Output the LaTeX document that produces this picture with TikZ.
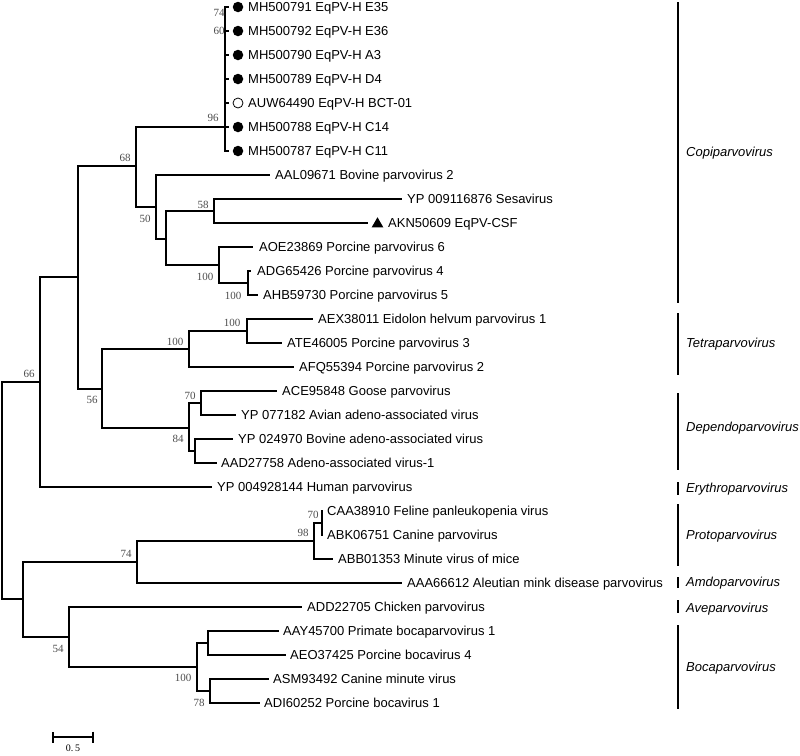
\documentclass[tikz,border=0pt]{standalone}
\usepackage{fontspec}
\setmainfont{Liberation Sans}
\newfontfamily\bsfont{Liberation Serif}
\usetikzlibrary{shapes.geometric,arrows.meta}
\begin{document}
\begin{tikzpicture}[x=1pt,y=-1pt,
  br/.style={line width=1.9pt,line cap=butt,line join=miter},
  lab/.style={anchor=west,inner sep=0pt,font=\fontsize{13}{15}\selectfont,text height=9.3pt,text depth=0pt},
  genus/.style={anchor=west,inner sep=0pt,font=\fontsize{13}{15}\selectfont\itshape,text height=9.3pt,text depth=0pt},
  bs/.style={inner sep=0pt,font=\bsfont\fontsize{11}{13}\selectfont,text=black!70},
  fdot/.style={circle,fill=black,inner sep=0pt,minimum size=10.5pt},
  odot/.style={circle,draw=black,line width=0.8pt,fill=white,inner sep=0pt,minimum size=10pt},
  tri/.style={regular polygon,regular polygon sides=3,fill=black,inner sep=0pt,minimum size=13.5pt},
  gbar/.style={line width=1.9pt}]
\useasboundingbox (0,0) rectangle (800,755);
% internal nodes
\coordinate (root) at (2,490);
\coordinate (n66) at (40,382);
\coordinate (n78) at (78,277);
\coordinate (n68) at (136,166);
\coordinate (n96) at (225,127);
\coordinate (n50) at (156,207);
\coordinate (n239) at (166,239);
\coordinate (n58) at (214,211);
\coordinate (n100a) at (219,265);
\coordinate (n100b) at (248,283);
\coordinate (n56) at (102,389);
\coordinate (ntet) at (189,349);
\coordinate (n100c) at (247,331);
\coordinate (n84) at (189,428);
\coordinate (n70d) at (201,403);
\coordinate (ndep2) at (195,451);
\coordinate (nB) at (23,599);
\coordinate (n74) at (137,562);
\coordinate (n98) at (314,541);
\coordinate (n70p) at (322,523);
\coordinate (n54) at (69,637);
\coordinate (nboca) at (197,667);
\coordinate (nb1) at (208,643);
\coordinate (nb2) at (210,691);
% leaf tips
\coordinate (l1) at (229,7);
\coordinate (l2) at (229,31);
\coordinate (l3) at (229,55);
\coordinate (l4) at (229,79);
\coordinate (l5) at (229,103);
\coordinate (l6) at (229,127);
\coordinate (l7) at (229,151);
\coordinate (l8) at (270,175);
\coordinate (l9) at (402,199);
\coordinate (l10) at (368,223);
\coordinate (l11) at (253,247);
\coordinate (l12) at (251,271);
\coordinate (l13) at (258,295);
\coordinate (l14) at (313,319);
\coordinate (l15) at (282,343);
\coordinate (l16) at (294,367);
\coordinate (l17) at (277,391);
\coordinate (l18) at (236,415);
\coordinate (l19) at (233,439);
\coordinate (l20) at (217,463);
\coordinate (l21) at (212,487);
\coordinate (l22) at (323,511);
\coordinate (l23) at (323,535);
\coordinate (l24) at (333,559);
\coordinate (l25) at (402,583);
\coordinate (l26) at (302,607);
\coordinate (l27) at (279,631);
\coordinate (l28) at (286,655);
\coordinate (l29) at (269,679);
\coordinate (l30) at (260,703);
% branches
\draw[br] (root) |- (n66);
\draw[br] (root) |- (nB);
\draw[br] (n66) |- (n78);
\draw[br] (n66) |- (l21);
\draw[br] (n78) |- (n68);
\draw[br] (n78) |- (n56);
\draw[br] (n68) |- (n96);
\draw[br] (n68) |- (n50);
\foreach \i in {1,...,7} {\draw[br] (n96) |- (l\i);}
\draw[br] (n50) |- (l8);
\draw[br] (n50) |- (n239);
\draw[br] (n239) |- (n58);
\draw[br] (n239) |- (n100a);
\draw[br] (n58) |- (l9);
\draw[br] (n58) |- (l10);
\draw[br] (n100a) |- (l11);
\draw[br] (n100a) |- (n100b);
\draw[br] (n100b) |- (l12);
\draw[br] (n100b) |- (l13);
\draw[br] (n56) |- (ntet);
\draw[br] (n56) |- (n84);
\draw[br] (ntet) |- (n100c);
\draw[br] (ntet) |- (l16);
\draw[br] (n100c) |- (l14);
\draw[br] (n100c) |- (l15);
\draw[br] (n84) |- (n70d);
\draw[br] (n84) |- (ndep2);
\draw[br] (n70d) |- (l17);
\draw[br] (n70d) |- (l18);
\draw[br] (ndep2) |- (l19);
\draw[br] (ndep2) |- (l20);
\draw[br] (nB) |- (n74);
\draw[br] (nB) |- (n54);
\draw[br] (n74) |- (n98);
\draw[br] (n74) |- (l25);
\draw[br] (n98) |- (n70p);
\draw[br] (n98) |- (l24);
\draw[br] (n70p) |- (l22);
\draw[br] (n70p) |- (l23);
\draw[br] (n54) |- (l26);
\draw[br] (n54) |- (nboca);
\draw[br] (nboca) |- (nb1);
\draw[br] (nboca) |- (nb2);
\draw[br] (nb1) |- (l27);
\draw[br] (nb1) |- (l28);
\draw[br] (nb2) |- (l29);
\draw[br] (nb2) |- (l30);
% markers
\node[fdot] (m1) at (238,7) {};
\node[fdot] (m2) at (238,31) {};
\node[fdot] (m3) at (238,55) {};
\node[fdot] (m4) at (238,79) {};
\node[odot] (m5) at (238,103) {};
\node[fdot] (m6) at (238,127) {};
\node[fdot] (m7) at (238,151) {};
\node[tri] (m10) at (377.5,224) {};
% leaf labels
\node[lab] (t1) at (248,7) {MH500791 EqPV-H E35};
\node[lab] (t2) at (248,31) {MH500792 EqPV-H E36};
\node[lab] (t3) at (248,55) {MH500790 EqPV-H A3};
\node[lab] (t4) at (248,79) {MH500789 EqPV-H D4};
\node[lab] (t5) at (248,103) {AUW64490 EqPV-H BCT-01};
\node[lab] (t6) at (248,127) {MH500788 EqPV-H C14};
\node[lab] (t7) at (248,151) {MH500787 EqPV-H C11};
\node[lab] (t8) at (275,175) {AAL09671 Bovine parvovirus 2};
\node[lab] (t9) at (407,199) {YP 009116876 Sesavirus};
\node[lab] (t10) at (388,223) {AKN50609 EqPV-CSF};
\node[lab] (t11) at (259,247) {AOE23869 Porcine parvovirus 6};
\node[lab] (t12) at (257,271) {ADG65426 Porcine parvovirus 4};
\node[lab] (t13) at (263,295) {AHB59730 Porcine parvovirus 5};
\node[lab] (t14) at (318,319) {AEX38011 Eidolon helvum parvovirus 1};
\node[lab] (t15) at (287,343) {ATE46005 Porcine parvovirus 3};
\node[lab] (t16) at (299,367) {AFQ55394 Porcine parvovirus 2};
\node[lab] (t17) at (282,391) {ACE95848 Goose parvovirus};
\node[lab] (t18) at (241,415) {YP 077182 Avian adeno-associated virus};
\node[lab] (t19) at (238,439) {YP 024970 Bovine adeno-associated virus};
\node[lab] (t20) at (221,463) {AAD27758 Adeno-associated virus-1};
\node[lab] (t21) at (217,487) {YP 004928144 Human parvovirus};
\node[lab] (t22) at (327,511) {CAA38910 Feline panleukopenia virus};
\node[lab] (t23) at (327,535) {ABK06751 Canine parvovirus};
\node[lab] (t24) at (338,559) {ABB01353 Minute virus of mice};
\node[lab] (t25) at (407,583) {AAA66612 Aleutian mink disease parvovirus};
\node[lab] (t26) at (307,607) {ADD22705 Chicken parvovirus};
\node[lab] (t27) at (283,631) {AAY45700 Primate bocaparvovirus 1};
\node[lab] (t28) at (290,655) {AEO37425 Porcine bocavirus 4};
\node[lab] (t29) at (273,679) {ASM93492 Canine minute virus};
\node[lab] (t30) at (264,703) {ADI60252 Porcine bocavirus 1};
% bootstrap values
\node[bs] (b1) at (219,13) {74};
\node[bs] (b2) at (219,31) {60};
\node[bs] (b3) at (213,118) {96};
\node[bs] (b4) at (125,158) {68};
\node[bs] (b5) at (145,219) {50};
\node[bs] (b6) at (203,205) {58};
\node[bs] (b7) at (205,277) {100};
\node[bs] (b8) at (233,296) {100};
\node[bs] (b9) at (232,323) {100};
\node[bs] (b10) at (175,342) {100};
\node[bs] (b11) at (92,400) {56};
\node[bs] (b12) at (190,396) {70};
\node[bs] (b13) at (178,439) {84};
\node[bs] (b14) at (29,374) {66};
\node[bs] (b15) at (313,515) {70};
\node[bs] (b16) at (303,533) {98};
\node[bs] (b17) at (126,554) {74};
\node[bs] (b18) at (58,649) {54};
\node[bs] (b19) at (183,678) {100};
\node[bs] (b20) at (199,703) {78};
% genus bars
\coordinate (g1a) at (678,2);   \coordinate (g1b) at (678,303);
\coordinate (g2a) at (678,313); \coordinate (g2b) at (678,375);
\coordinate (g3a) at (678,393); \coordinate (g3b) at (678,470);
\coordinate (g4a) at (678,482); \coordinate (g4b) at (678,495);
\coordinate (g5a) at (678,504); \coordinate (g5b) at (678,566);
\coordinate (g6a) at (678,577); \coordinate (g6b) at (678,588);
\coordinate (g7a) at (678,600); \coordinate (g7b) at (678,613);
\coordinate (g8a) at (678,625); \coordinate (g8b) at (678,709);
\draw[gbar] (g1a) -- (g1b);
\draw[gbar] (g2a) -- (g2b);
\draw[gbar] (g3a) -- (g3b);
\draw[gbar] (g4a) -- (g4b);
\draw[gbar] (g5a) -- (g5b);
\draw[gbar] (g6a) -- (g6b);
\draw[gbar] (g7a) -- (g7b);
\draw[gbar] (g8a) -- (g8b);
\node[genus] (G1) at (686,152) {Copiparvovirus};
\node[genus] (G2) at (686,343) {Tetraparvovirus};
\node[genus] (G3) at (686,427) {Dependoparvovirus};
\node[genus] (G4) at (686,488) {Erythroparvovirus};
\node[genus] (G5) at (686,535) {Protoparvovirus};
\node[genus] (G6) at (686,582) {Amdoparvovirus};
\node[genus] (G7) at (686,608) {Aveparvovirus};
\node[genus] (G8) at (686,667) {Bocaparvovirus};
% scale bar
\coordinate (sb1) at (52,737);
\coordinate (sb2) at (94,737);
\draw[line width=1.9pt,{Bar[width=11pt,line width=1.9pt]}-{Bar[width=11pt,line width=1.9pt]}] (sb1) -- (sb2);
\node[bs,text=black,font=\bsfont\fontsize{10}{12}\selectfont] (sbl) at (73,748) {0.\,5};
\end{tikzpicture}
\end{document}
